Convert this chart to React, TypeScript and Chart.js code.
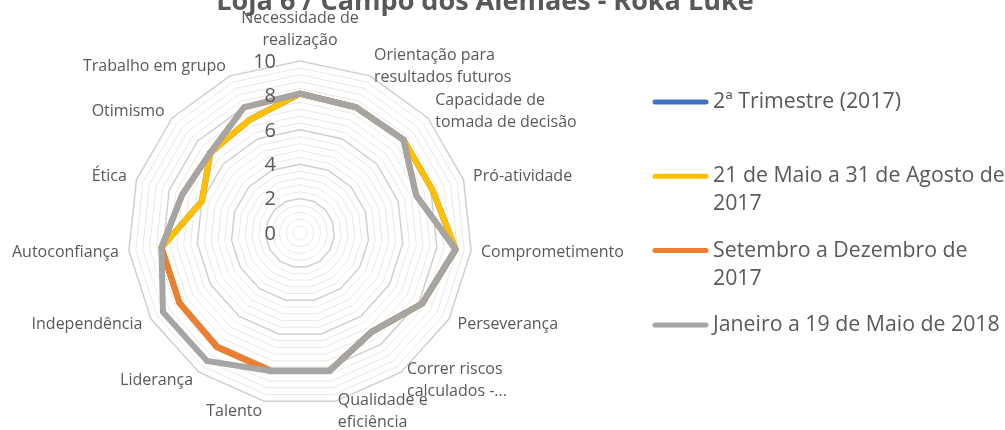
import React, { useEffect, useRef } from 'react';
import { Chart, registerables } from 'chart.js';

Chart.register(...registerables);

const chartTitle = 'Loja 6 / Campo dos Alemães - Roka Luke';

const categories: string[][] = [
  ['Necessidade de', 'realização'],
  ['Orientação para', 'resultados futuros'],
  ['Capacidade de', 'tomada de decisão'],
  ['Pró-atividade'],
  ['Comprometimento'],
  ['Perseverança'],
  ['Correr riscos', 'calculados -...'],
  ['Qualidade e', 'eficiência'],
  ['Talento'],
  ['Liderança'],
  ['Independência'],
  ['Autoconfiança'],
  ['Ética'],
  ['Otimismo'],
  ['Trabalho em grupo'],
];

const seriesNames = [
  '2ª Trimestre (2017)',
  '21 de Maio a 31 de Agosto de 2017',
  'Setembro a Dezembro de 2017',
  'Janeiro a 19 de Maio de 2018',
];

const trimestre2017 = [8.1, 8.0, 8.1, 8.1, 9.1, 8.2, 7.1, 8.2, 8.2, 8.2, 8.1, 8.1, 6.0, 7.0, 7.2];
const maioAgosto2017 = [8.1, 8.0, 8.1, 8.1, 9.1, 8.2, 7.1, 8.2, 8.2, 8.2, 8.1, 8.1, 6.0, 7.0, 7.2];
const setembroDezembro2017 = [8.1, 8.0, 8.1, 7.1, 9.1, 8.2, 7.1, 8.2, 8.2, 8.2, 8.1, 8.1, 7.2, 7.0, 8.0];
const janeiroMaio2018 = [8.1, 8.0, 8.1, 7.1, 9.1, 8.2, 7.1, 8.2, 8.2, 9.2, 9.2, 8.1, 7.2, 7.0, 8.0];

const seriesColors = ['#4472C4', '#FFC000', '#ED7D31', '#A5A5A5'];

const tickValues = [0, 2, 4, 6, 8, 10];
const axisMax = 10;
const majorStep = 2;
const minorStep = 0.4;

const TEXT = '#595959';
const FONT = '"Open Sans", "Noto Sans", sans-serif';

function wrapText(ctx: CanvasRenderingContext2D, text: string, maxWidth: number): string[] {
  const words = text.split(' ');
  const lines: string[] = [];
  let cur = '';
  for (const w of words) {
    const test = cur ? cur + ' ' + w : w;
    if (ctx.measureText(test).width > maxWidth && cur) {
      lines.push(cur);
      cur = w;
    } else {
      cur = test;
    }
  }
  if (cur) lines.push(cur);
  return lines;
}

const overlayPlugin = {
  id: 'overlay',
  afterLayout(chart: any) {
    const s = chart.scales.r;
    s.xCenter = 300;
    s.yCenter = 233;
    s.drawingArea = 172;
  },
  afterDatasetsDraw(chart: any) {
    const ctx: CanvasRenderingContext2D = chart.ctx;
    const s = chart.scales.r;
    ctx.save();

    // tick labels
    ctx.font = `20px ${FONT}`;
    ctx.fillStyle = TEXT;
    ctx.textAlign = 'right';
    ctx.textBaseline = 'middle';
    tickValues.forEach((v) => {
      const y = s.yCenter - s.getDistanceFromCenterForValue(v);
      ctx.fillText(String(v), s.xCenter - 24, y + 1);
    });

    // point labels
    ctx.font = `16px ${FONT}`;
    const n = categories.length;
    const lh = 22;
    categories.forEach((lines, i) => {
      const p = s.getPointPosition(i, s.drawingArea + 10);
      const deg = (360 / n) * i;
      const h = lines.length * lh;
      let top: number;
      if (deg === 0) {
        ctx.textAlign = 'center';
        top = p.y - h;
      } else {
        ctx.textAlign = deg < 180 ? 'left' : 'right';
        top = p.y - h / 2;
      }
      lines.forEach((ln, k) => {
        ctx.fillText(ln, p.x, top + lh * k + lh / 2);
      });
    });

    // title
    ctx.font = `bold 27px ${FONT}`;
    ctx.textAlign = 'center';
    ctx.textBaseline = 'alphabetic';
    ctx.fillText(chartTitle, 485, 10);

    // legend
    ctx.font = `21.3px ${FONT}`;
    ctx.textAlign = 'left';
    ctx.textBaseline = 'middle';
    const textX = 713;
    const maxW = chart.width - textX;
    seriesNames.forEach((name, k) => {
      const y = 102 + k * 74.3;
      ctx.strokeStyle = seriesColors[k];
      ctx.lineWidth = 5;
      ctx.lineCap = 'round';
      ctx.beginPath();
      ctx.moveTo(655, y);
      ctx.lineTo(706, y);
      ctx.stroke();
      const lines = wrapText(ctx, name, maxW);
      lines.forEach((ln, j) => ctx.fillText(ln, textX, y + j * 28));
    });

    ctx.restore();
  },
};

export default function App() {
  const canvasRef = useRef<HTMLCanvasElement | null>(null);

  useEffect(() => {
    if (!canvasRef.current) return;
    const values = [trimestre2017, maioAgosto2017, setembroDezembro2017, janeiroMaio2018];
    const chart = new Chart(canvasRef.current, {
      type: 'radar',
      data: {
        labels: categories,
        datasets: values.map((d, k) => ({
          label: seriesNames[k],
          data: d,
          borderColor: seriesColors[k],
          backgroundColor: 'transparent',
          borderWidth: 6,
          fill: false,
          pointRadius: 0,
          pointHoverRadius: 0,
          tension: 0,
          order: values.length - 1 - k,
          clip: false as any,
        })),
      },
      options: {
        responsive: false,
        animation: false,
        layout: { padding: 0 },
        plugins: {
          legend: { display: false },
          title: { display: false },
          tooltip: { enabled: false },
        },
        scales: {
          r: {
            min: 0,
            max: axisMax,
            ticks: { display: false, stepSize: minorStep },
            pointLabels: { display: false },
            angleLines: { display: false },
            grid: {
              circular: false,
              color: (c: any) =>
                Math.round(c.tick.value * 10) % Math.round(majorStep * 10) === 0 ? '#D0D0D0' : '#E9E9E9',
              lineWidth: (c: any) =>
                Math.round(c.tick.value * 10) % Math.round(majorStep * 10) === 0 ? 1.5 : 1,
            },
          },
        },
      },
      plugins: [overlayPlugin],
    });
    return () => chart.destroy();
  }, []);

  return (
    <div style={{ position: 'fixed', left: 0, top: 0, width: 1005, height: 430, background: '#fff' }}>
      <canvas ref={canvasRef} width={1005} height={430} />
    </div>
  );
}
